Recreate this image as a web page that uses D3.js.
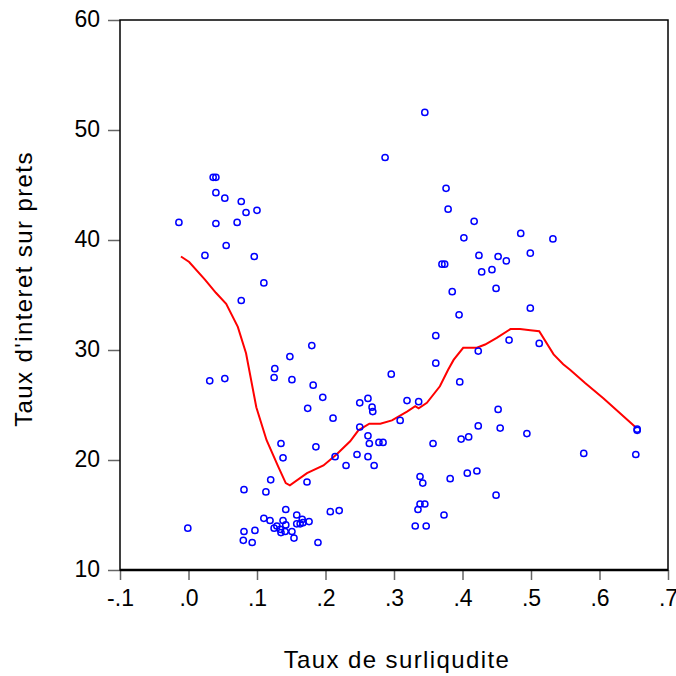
<!DOCTYPE html>
<html>
<head>
<meta charset="utf-8">
<script src="https://cdn.jsdelivr.net/npm/d3@7"></script>
<style>
  body { margin: 0; background: #fff; }
  svg { font-family: "Liberation Sans", Arial, sans-serif; }
</style>
</head>
<body>
<svg id="chart" width="676" height="676"></svg>
<script>
// scatter data: taux de surliquidite (x) vs taux d'interet sur prets (y)
var xs = [0.036, 0.040, 0.040, 0.053, 0.077, 0.084, 0.100, -0.014, 0.040, 0.071,
  0.055, 0.024, 0.096, 0.110, 0.077, 0.180, 0.148, 0.126, 0.125, 0.031,
  0.053, 0.151, 0.182, 0.196, 0.250, 0.262, 0.174, 0.211, 0.250, 0.262,
  0.264, 0.135, 0.186, 0.138, 0.214, 0.246, 0.262, 0.230, 0.120, 0.173,
  0.081, 0.113, 0.142, 0.207, 0.220, 0.110, 0.158, 0.119, 0.138, 0.166,
  0.129, 0.142, 0.158, 0.163, 0.167, 0.176, 0.125, 0.134, 0.141, 0.135,
  0.151, 0.097, 0.081, -0.001, 0.080, 0.093, 0.154, 0.189, 0.345, 0.287,
  0.376, 0.379, 0.417, 0.402, 0.485, 0.532, 0.424, 0.452, 0.464, 0.499,
  0.370, 0.374, 0.428, 0.443, 0.385, 0.449, 0.395, 0.499, 0.361, 0.468,
  0.423, 0.512, 0.361, 0.296, 0.396, 0.268, 0.269, 0.319, 0.336, 0.309,
  0.278, 0.284, 0.271, 0.452, 0.423, 0.455, 0.494, 0.357, 0.398, 0.409,
  0.655, 0.655, 0.577, 0.653, 0.338, 0.342, 0.382, 0.407, 0.421, 0.449,
  0.338, 0.345, 0.335, 0.373, 0.331, 0.347];

var ys = [45.7, 45.7, 44.3, 43.8, 43.5, 42.5, 42.7, 41.6, 41.5, 41.6,
  39.5, 38.6, 38.5, 36.1, 34.5, 30.4, 29.4, 28.3, 27.5, 27.2,
  27.4, 27.3, 26.8, 25.7, 25.2, 25.6, 24.7, 23.8, 23.0, 22.2,
  21.5, 21.5, 21.2, 20.2, 20.3, 20.5, 20.3, 19.5, 18.2, 18.0,
  17.3, 17.1, 15.5, 15.3, 15.4, 14.7, 15.0, 14.5, 14.5, 14.6,
  14.0, 14.1, 14.2, 14.2, 14.3, 14.4, 13.8, 13.7, 13.5, 13.4,
  13.5, 13.6, 13.5, 13.8, 12.7, 12.5, 12.9, 12.5, 51.6, 47.5,
  44.7, 42.8, 41.7, 40.2, 40.6, 40.1, 38.6, 38.5, 38.1, 38.8,
  37.8, 37.8, 37.1, 37.3, 35.3, 35.6, 33.2, 33.8, 31.3, 30.9,
  29.9, 30.6, 28.8, 27.8, 27.1, 24.8, 24.4, 25.4, 25.3, 23.6,
  21.6, 21.6, 19.5, 24.6, 23.1, 22.9, 22.4, 21.5, 21.9, 22.1,
  22.8, 22.7, 20.6, 20.5, 18.5, 17.9, 18.3, 18.8, 19.0, 16.8,
  16.0, 16.0, 15.5, 15.0, 14.0, 14.0];

// fitted curve (red)
var fitX = [-0.011, 0.001, 0.024, 0.040, 0.055, 0.072, 0.084, 0.099, 0.114, 0.131,
  0.142, 0.148, 0.173, 0.197, 0.216, 0.236, 0.248, 0.264, 0.280, 0.297,
  0.319, 0.331, 0.336, 0.348, 0.367, 0.379, 0.387, 0.401, 0.421, 0.433,
  0.450, 0.470, 0.484, 0.499, 0.512, 0.533, 0.547, 0.557, 0.579, 0.606, 0.654];
var fitY = [38.5, 38.0, 36.4, 35.2, 34.2, 32.1, 29.7, 24.8, 21.8, 19.4,
  17.9, 17.7, 18.8, 19.5, 20.5, 21.7, 22.7, 23.3, 23.3, 23.6,
  24.4, 24.9, 24.7, 25.2, 26.7, 28.2, 29.1, 30.2, 30.2, 30.5,
  31.1, 31.9, 31.9, 31.8, 31.7, 29.6, 28.7, 28.2, 27.0, 25.6, 22.9];

var xTicks = [-0.1, 0, 0.1, 0.2, 0.3, 0.4, 0.5, 0.6, 0.7];
var xTickLabels = ["-.1", ".0", ".1", ".2", ".3", ".4", ".5", ".6", ".7"];
var yTicks = [10, 20, 30, 40, 50, 60];

var mLeft = 120, mRight = 668, mTop = 20, mBottom = 570;

var svg = d3.select("#chart");

var x = d3.scaleLinear().domain([-0.1, 0.7]).range([mLeft, mRight]);
var y = d3.scaleLinear().domain([10, 60]).range([mBottom, mTop]);

// axes
var xAxis = d3.axisBottom(x)
    .tickValues(xTicks)
    .tickFormat(function(d, i) { return xTickLabels[i]; })
    .tickSize(10)
    .tickPadding(10);

var yAxis = d3.axisLeft(y)
    .tickValues(yTicks)
    .tickSize(12)
    .tickPadding(8);

var gx = svg.append("g")
    .attr("transform", "translate(0," + mBottom + ")")
    .call(xAxis);
var gy = svg.append("g")
    .attr("transform", "translate(" + mLeft + ",0)")
    .call(yAxis);

[gx, gy].forEach(function(g) {
  g.select(".domain").remove();
  g.selectAll(".tick line").attr("stroke", "#666").attr("stroke-width", 1.5);
  g.selectAll(".tick text")
    .attr("fill", "#000")
    .style("font-size", "23px")
    .style("font-family", "'Liberation Sans', Arial, sans-serif");
});
gy.selectAll(".tick text").attr("dy", "0.3em");

// frame
svg.append("rect")
    .attr("x", mLeft)
    .attr("y", mTop)
    .attr("width", mRight - mLeft)
    .attr("height", mBottom - mTop)
    .attr("fill", "none")
    .attr("stroke", "#000")
    .attr("stroke-width", 1.5);

svg.append("line")
    .attr("x1", mLeft).attr("x2", mRight)
    .attr("y1", mBottom).attr("y2", mBottom)
    .attr("stroke", "#000")
    .attr("stroke-width", 2.5);

// fitted line
var line = d3.line()
    .x(function(d, i) { return x(fitX[i]); })
    .y(function(d, i) { return y(fitY[i]); });

svg.append("path")
    .datum(fitY)
    .attr("d", line)
    .attr("fill", "none")
    .attr("stroke", "#ff0000")
    .attr("stroke-width", 2);

// points
svg.append("g").selectAll("circle")
    .data(xs)
  .enter().append("circle")
    .attr("cx", function(d) { return x(d); })
    .attr("cy", function(d, i) { return y(ys[i]); })
    .attr("r", 3.1)
    .attr("fill", "none")
    .attr("stroke", "#0000ff")
    .attr("stroke-width", 1.5);

// axis titles
svg.append("text")
    .attr("x", 397)
    .attr("y", 668)
    .attr("text-anchor", "middle")
    .style("font-size", "24px")
    .style("letter-spacing", "1.4px")
    .text("Taux de surliqudite");

svg.append("text")
    .attr("transform", "translate(32,289) rotate(-90)")
    .attr("text-anchor", "middle")
    .style("font-size", "24px")
    .style("letter-spacing", "1.4px")
    .text("Taux d'interet sur prets");
</script>
</body>
</html>
